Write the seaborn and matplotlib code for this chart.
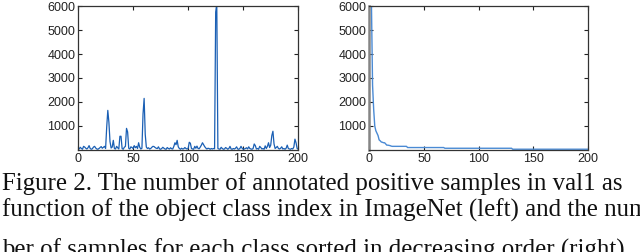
import numpy as np
import pandas as pd
import matplotlib
matplotlib.use("Agg")
import matplotlib.pyplot as plt
import seaborn as sns

# ----------------------------------------------------------
# Data
# ----------------------------------------------------------
class_index = list(range(1, 201))

samples_per_class = [
    40, 110, 60, 30, 150, 120, 70, 40, 90, 180,
    60, 30, 50, 120, 150, 80, 40, 30, 60, 100,
    140, 70, 110, 150, 60, 950, 1650, 1150, 350, 80,
    120, 400, 60, 40, 150, 90, 40, 570, 570, 60,
    30, 110, 150, 900, 750, 70, 40, 130, 100, 60,
    180, 90, 150, 60, 300, 110, 40, 70, 1500, 2150,
    650, 120, 60, 90, 40, 60, 110, 150, 140, 100,
    70, 60, 130, 40, 30, 60, 110, 70, 40, 30,
    100, 60, 40, 90, 50, 40, 150, 300, 220, 400,
    130, 60, 30, 70, 40, 50, 100, 60, 40, 60,
    320, 280, 60, 40, 30, 150, 70, 160, 60, 50,
    120, 200, 300, 220, 140, 80, 40, 70, 60, 30,
    60, 40, 60, 50, 5750, 6100, 60, 40, 30, 110,
    60, 30, 40, 100, 70, 30, 60, 150, 40, 30,
    60, 40, 70, 130, 40, 30, 60, 150, 70, 30,
    40, 60, 90, 40, 130, 60, 40, 30, 60, 250,
    180, 40, 60, 30, 150, 100, 40, 60, 30, 170,
    60, 150, 300, 100, 200, 600, 780, 250, 60, 100,
    150, 60, 40, 70, 130, 40, 60, 30, 70, 200,
    60, 40, 30, 60, 40, 120, 450, 300, 60, 30,
]

sorted_head = [6200, 6000, 2700, 1700, 1000, 800, 700, 600, 420, 380,
               330, 320, 300, 300, 250, 200, 200, 190, 180, 160]
sorted_samples = sorted_head + [150] * 14 + [100] * 34 + [70] * 62 + [30] * 70

x_ticks = [0, 50, 100, 150, 200]
y_ticks = [1000, 2000, 3000, 4000, 5000, 6000]

caption_lines = [
    "Figure 2. The number of annotated positive samples in val1 as",
    "function of the object class index in ImageNet (left) and the num-",
    "ber of samples for each class sorted in decreasing order (right).",
]
caption_baselines_px = [190, 217, 257]

df_left = pd.DataFrame({"idx": class_index, "n": samples_per_class})
df_right = pd.DataFrame({"idx": class_index, "n": sorted_samples})

# ----------------------------------------------------------
# Style
# ----------------------------------------------------------
sns.set_style("ticks")
plt.rcParams["font.family"] = ["Liberation Sans", "DejaVu Sans"]
plt.rcParams["xtick.direction"] = "in"
plt.rcParams["ytick.direction"] = "in"

fig = plt.figure(figsize=(6.4, 2.52), dpi=100)
ax1 = fig.add_axes([0.122, 0.405, 0.344, 0.571])
ax2 = fig.add_axes([0.577, 0.405, 0.342, 0.571])

sns.lineplot(data=df_left, x="idx", y="n", ax=ax1, color="#1a5fb4", linewidth=0.9)
sns.lineplot(data=df_right, x="idx", y="n", ax=ax2, color="#4a8ad4", linewidth=1.0)

for ax in (ax1, ax2):
    ax.set_xlim(0, 200)
    ax.set_ylim(0, 6000)
    ax.set_xticks(x_ticks)
    ax.set_yticks(y_ticks)
    ax.set_xlabel("")
    ax.set_ylabel("")
    ax.tick_params(labelsize=9, colors="#222222", length=3, width=0.8,
                   top=True, right=True, pad=2)
    for s in ax.spines.values():
        s.set_visible(True)
        s.set_color("#333333")
        s.set_linewidth(0.9)

ax2.spines["left"].set_color("#858585")
ax2.spines["left"].set_linewidth(1.8)

# caption, clipped by the figure edge as in the reference
for line, base in zip(caption_lines, caption_baselines_px):
    fig.text(0.003, 1 - base / 252, line, family=["Liberation Serif", "DejaVu Serif"],
             fontsize=17.9, color="#111111", ha="left", va="baseline")

fig.savefig("out.png", dpi=100)
